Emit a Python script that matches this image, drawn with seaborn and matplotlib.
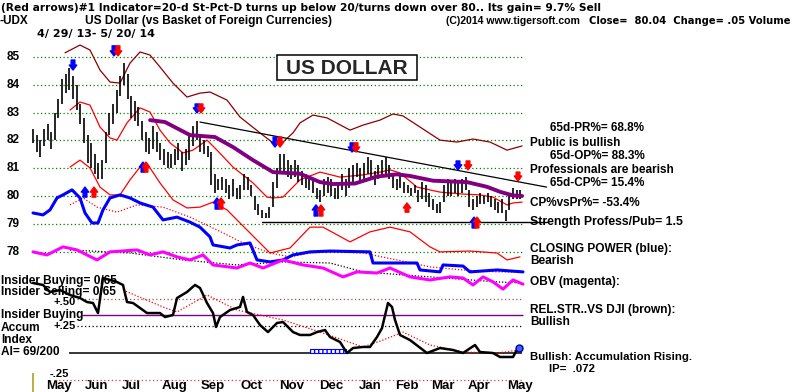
import matplotlib
matplotlib.use("Agg")
import matplotlib.pyplot as plt
import seaborn as sns
from matplotlib.patches import Rectangle

# ---------------- data ----------------
# daily price bars, sampled every 2nd trading day (day index from 4/29/13)
bar_day = list(range(0, 270, 2))
bar_high = [82.4, 82.2, 82.0, 82.4, 82.6, 82.3, 83.0, 83.5, 84.2, 84.4,
            84.6, 84.3, 84.0, 83.3, 82.8, 82.2, 81.9, 81.5, 81.2, 81.3,
            82.3, 83.0, 83.3, 83.8, 84.3, 84.8, 84.4, 83.6, 83.4, 83.2,
            82.7, 82.3, 82.1, 82.5, 82.3, 81.9, 81.7, 81.6, 81.5, 81.7,
            81.9, 81.6, 81.7, 82.2, 82.5, 82.7, 82.2, 82.0, 81.8, 81.6,
            80.8, 80.6, 80.7, 80.6, 80.4, 80.6, 80.3, 80.4, 80.8, 80.7,
            80.4, 80.0, 79.7, 79.5, 79.4, 79.6, 80.5, 81.0, 81.5, 81.5,
            81.3, 81.1, 81.3, 81.1, 80.9, 80.8, 80.7, 80.6, 80.3, 80.2,
            80.6, 80.7, 80.6, 80.3, 80.5, 80.8, 80.6, 81.0, 81.1, 81.2,
            81.0, 81.2, 81.4, 81.3, 80.9, 81.1, 81.3, 81.4, 81.1, 80.8,
            80.6, 80.8, 80.5, 80.4, 80.3, 80.4, 80.2, 80.5, 80.4, 80.1,
            79.9, 79.7, 79.8, 80.4, 80.6, 80.5, 80.6, 80.5, 80.6, 80.7,
            80.2, 79.9, 80.0, 80.1, 80.0, 80.1, 80.0, 79.9, 79.8, 79.9,
            79.5, 80.1, 80.3, 80.2, 80.2]
bar_low = [81.9, 81.6, 81.4, 81.8, 82.0, 81.7, 82.0, 82.8, 83.3, 83.7,
           83.8, 83.5, 83.1, 82.6, 81.9, 81.2, 81.0, 80.8, 80.6, 80.6,
           81.2, 82.2, 82.6, 83.0, 83.6, 84.0, 83.5, 82.8, 82.7, 82.5,
           82.0, 81.6, 81.5, 81.7, 81.6, 81.3, 81.1, 81.0, 81.0, 81.1,
           81.3, 80.9, 81.1, 81.3, 81.8, 82.0, 81.6, 81.5, 81.4, 80.4,
           80.1, 80.2, 80.2, 80.1, 79.9, 80.0, 79.9, 79.9, 80.2, 80.2,
           80.0, 79.5, 79.3, 79.2, 79.2, 79.2, 79.6, 80.3, 80.8, 80.9,
           80.7, 80.6, 80.7, 80.5, 80.4, 80.3, 80.2, 80.1, 79.9, 79.8,
           80.0, 80.1, 80.0, 79.9, 79.9, 80.2, 80.0, 80.3, 80.5, 80.7,
           80.5, 80.6, 80.8, 80.6, 80.4, 80.6, 80.7, 80.8, 80.6, 80.3,
           80.2, 80.3, 80.1, 80.1, 80.0, 80.1, 79.8, 79.9, 79.8, 79.6,
           79.5, 79.4, 79.4, 79.8, 80.0, 80.0, 80.1, 80.0, 80.1, 80.2,
           79.6, 79.5, 79.6, 79.7, 79.7, 79.8, 79.6, 79.5, 79.4, 79.4,
           79.1, 79.5, 79.9, 79.9, 79.9]

# 65-day moving average (purple)
ma_day = [64.4, 72.6, 86.4, 100.1, 110, 121, 132, 146.9, 157.9, 165, 177.1,
          189.2, 200.2, 207.4, 220, 238.7, 249.7, 256.9, 264, 269]
ma_val = [82.73, 82.66, 82.19, 82.12, 81.76, 81.29, 80.86, 80.8, 80.5, 80.43,
          80.45, 80.7, 80.78, 80.72, 80.55, 80.5, 80.33, 80.15, 80.02, 80.0]

# outer band (dark red, relative strength)
rs_day = [17.6, 25.85, 31.35, 36.85, 42.35, 47.85, 53.35, 58.85, 64.35, 69.85,
          77, 84.7, 91.85, 97.35, 106.7, 113.85, 124.85, 132, 137.5, 143,
          146.85, 154, 161.7, 174.35, 181.5, 190.85, 198, 203.5, 212.85,
          223.85, 233.2, 242, 251.35, 260.7, 269]
rs_val = [85.15, 85.43, 85.25, 84.53, 84.10, 84.06, 84.78, 85.18, 85.07, 84.64,
          84.06, 83.56, 83.70, 83.74, 83.45, 82.84, 82.27, 81.91, 81.94, 82.27,
          82.63, 82.91, 82.81, 82.37, 82.55, 82.73, 82.95, 82.88, 82.48,
          82.01, 81.94, 82.05, 81.94, 81.65, 81.80]

# upper red band
up_day = [20.35, 25.85, 31.35, 36.85, 42.35, 46.2, 51.7, 58.85, 64.35, 69.85,
          75.35, 82.5, 88, 95.7, 101.2, 110, 121, 128.7, 132, 137.5, 146.85,
          157.85, 168.85, 181.5, 190.85, 196.35, 201.85, 211.2, 223.85, 236.5,
          245.85, 253, 260.7, 264, 269]
up_val = [83.09, 83.38, 83.27, 82.48, 82.09, 82.01, 82.63, 83.17, 83.02, 82.37,
          81.91, 81.55, 81.65, 82.01, 81.65, 81.04, 80.47, 79.96, 79.93, 79.96,
          80.58, 80.86, 80.68, 80.76, 80.86, 80.94, 80.83, 80.32, 80.14, 80.07,
          80.04, 79.96, 79.68, 79.75, 79.78]

# lower red band
lo_day = [20.35, 25.85, 31.35, 36.85, 42.35, 47.85, 53.35, 58.85, 64.35, 69.85,
          77, 84.7, 91.85, 99, 106.7, 113.85, 119.35, 124.85, 130.35, 141.35,
          152.35, 159.5, 174.35, 185.35, 196.35, 207.35, 218.35, 223.85,
          240.35, 255.2, 260.7, 267.85]
lo_val = [81.04, 81.29, 81.01, 80.32, 80.04, 80.04, 80.58, 81.04, 81.01, 80.47,
          79.86, 79.57, 79.60, 79.78, 79.50, 79.03, 78.67, 78.31, 77.95, 78.13,
          78.88, 78.88, 78.35, 78.71, 78.88, 78.71, 78.17, 77.99,
          78.02, 77.95, 77.70, 77.81]

# Closing Power (blue) and its moving average (red dotted)
cp_day = [0, 5.5, 9.35, 13.2, 16.5, 21.45, 25.85, 28.6, 32.45, 35.75, 38.5,
          42.35, 47.85, 53.35, 58.85, 66, 71.5, 79.2, 86.35, 91.85, 97.35, 99,
          108.35, 112.2, 119.35, 123.2, 130.35, 137.5, 143, 152.35, 163.35,
          185.35, 187, 200.2, 211.2, 212.85, 223.85, 225.5, 236.5, 240.35,
          255.2, 269.5]
cp_val = [79.39, 79.32, 79.50, 79.93, 80.04, 80.22, 79.93, 79.39, 79.03, 79.03,
          79.50, 79.93, 80.04, 79.93, 79.75, 79.60, 79.14, 79.24, 79.06, 78.88,
          78.53, 78.24, 78.13, 78.24, 78.31, 77.70, 77.63, 77.70, 77.88, 77.99,
          78.02, 77.99, 77.59, 77.59, 77.59, 77.34, 77.27, 77.52, 77.48, 77.27,
          77.34, 77.27]
cpma_day = [20.35, 27.5, 35.2, 46.2, 57.2, 71.5, 86.35, 101.2, 115.5, 130.35,
            141.35, 152.35, 163.35, 181.5, 200.2, 218.35, 236.5, 255.2, 269.5]
cpma_val = [79.68, 79.93, 79.60, 79.42, 79.68, 79.60, 79.24, 78.78, 78.31,
            77.95, 77.81, 77.95, 77.99, 77.95, 77.70, 77.45, 77.34, 77.27, 77.27]

# OBV (magenta) and its moving average (black dotted)
obv_day = [0, 7.7, 16.5, 24.2, 35.2, 42.35, 57.2, 64.35, 71.5, 79.2, 86.35,
           93.5, 99, 112.2, 119.35, 126.5, 137.5, 148.5, 159.5, 170.5, 178.2,
           189.2, 196.35, 207.35, 218.35, 229.35, 236.5, 242, 247.5, 253,
           258.5, 264, 269.5]
obv_val = [77.99, 77.88, 78.17, 78.06, 77.70, 77.99, 78.06, 77.88, 77.99, 77.81,
           77.70, 77.88, 77.52, 77.41, 77.59, 77.41, 77.70, 77.52, 77.41, 77.09,
           77.27, 77.23, 77.41, 77.09, 76.98, 77.09, 77.05, 76.80, 77.09, 76.91,
           76.65, 76.98, 76.83]
obvma_day = [20.35, 53.35, 82.5, 112.2, 137.5, 163.35, 181.5, 218.35, 255.2, 269.5]
obvma_val = [78.06, 77.95, 77.70, 77.52, 77.63, 77.59, 77.27, 77.09, 76.91, 76.87]

# Accumulation Index (black) and its moving average (red dotted)
ai_day = [0, 5.5, 9.35, 14.85, 20.35, 25.85, 29.7, 33, 35.75, 37.95, 38.5,
          42.35, 46.2, 49.5, 51.7, 55, 58.85, 62.7, 69.85, 72.6, 77, 79.2,
          84.7, 89.1, 91.85, 95.7, 99, 100.65, 102.85, 108.35, 113.85, 115.5,
          117.7, 121, 124.85, 129.25, 134.2, 137.5, 143, 146.85, 152.35, 156.2,
          160.6, 163.35, 168.85, 172.7, 176, 181.5, 185.35, 189.2, 191.95,
          195.25, 197.45, 199.1, 201.85, 207.35, 214.5, 216.7, 223.85, 231,
          236.5, 243.1, 245.85, 253, 256.85, 264, 266.75, 268.95]
ai_val = [0.648, 0.630, 0.565, 0.583, 0.537, 0.509, 0.472, 0.463, 0.370, 0.630,
          0.694, 0.676, 0.657, 0.630, 0.472, 0.463, 0.417, 0.370, 0.370, 0.333,
          0.352, 0.509, 0.565, 0.630, 0.602, 0.463, 0.370, 0.241, 0.333, 0.398,
          0.426, 0.519, 0.380, 0.352, 0.259, 0.194, 0.278, 0.287, 0.194, 0.167,
          0.167, 0.194, 0.213, 0.148, 0.102, 0.0, 0.046, 0.056, 0.056, 0.148,
          0.231, 0.463, 0.426, 0.306, 0.167, 0.120, 0.028, 0.0, 0.046, 0.028,
          0.0, 0.074, 0.009, 0.0, -0.037, -0.037, 0.046, 0.056]
aima_day = [49.5, 71.5, 79.2, 95.7, 112.2, 137.5, 159.5, 181.5, 192.5, 203.5,
            218.35, 236.5, 255.2, 267.85]
aima_val = [0.583, 0.426, 0.380, 0.537, 0.398, 0.306, 0.185, 0.056, 0.120,
            0.194, 0.074, 0.009, 0.0, 0.028]

# trend / support lines
trend_day = [91.85, 282.5]
trend_val = [82.66, 80.32]
support_day = [126.0, 282.7]
support_val = [79.06, 79.06]

# buy / sell arrows: day, tip level, tail level, colour
sig_day = [22, 44.55, 46.75, 28.6, 33.55, 60.5, 62.15, 90.2, 92.4, 101.2, 103.4,
           133.1, 135.85, 155.65, 158.4, 175.45, 177.65, 205.7, 233.75, 239.25,
           266.75, 242.55, 244.2]
sig_tip = [84.53, 85.04, 85.04, 80.32, 80.32, 81.22, 81.22, 82.99, 82.99, 79.93,
           79.93, 81.76, 81.76, 79.68, 79.68, 81.58, 81.58, 79.75, 80.94, 80.94,
           80.54, 79.24, 79.24]
sig_tail = [84.89, 85.40, 85.40, 79.96, 79.96, 80.86, 80.86, 83.31, 83.31, 79.53,
            79.53, 82.12, 82.12, 79.28, 79.28, 81.91, 81.91, 79.42, 81.26, 81.26,
            80.86, 78.85, 78.85]
sig_color = ['b', 'b', 'r', 'b', 'r', 'b', 'r', 'b', 'r', 'b', 'r', 'b', 'r',
             'b', 'r', 'b', 'r', 'r', 'b', 'r', 'r', 'b', 'r']

price_ticks = [85, 84, 83, 82, 81, 80, 79, 78]
month_labels = ['May', 'Jun', 'Jul', 'Aug', 'Sep', 'Oct', 'Nov', 'Dec', 'Jan',
                'Feb', 'Mar', 'Apr', 'May']
month_pos = [14.3, 35.2, 53.9, 78.1, 99.0, 120.4, 142.4, 163.9, 185.4, 205.7,
             225.5, 245.3, 267.9]
ai_levels = [0.5, 0.25, 0.0, -0.25]
ai_level_labels = ['+.50', '+.25', '', '-.25']
insider_level = 0.352

# ---------------- drawing ----------------
sns.set_theme(style="white")
plt.rcParams['font.family'] = ['Liberation Sans', 'DejaVu Sans']
plt.rcParams['font.weight'] = 'bold'

W, H = 792, 392
fig = plt.figure(figsize=(W / 100, H / 100), dpi=100)
fig.patch.set_facecolor('white')
ax = fig.add_axes([0, 0, 1, 1])
ax2 = fig.add_axes([0, 0, 1, 1], sharex=ax)
ax2.patch.set_alpha(0)

XL = (-18.15, 417.45)
YL = (72.95, 87.05)
AL = (-0.361, 3.2685)


def line(a, xs, ys, **kw):
    sns.lineplot(x=xs, y=ys, ax=a, estimator=None, sort=False, legend=False, **kw)


GREEN = '#008000'
dots = (0, (1, 2))
ax.hlines(price_ticks, 0, 269, colors=GREEN, linestyles=dots, lw=0.9, zorder=1)

# bands
line(ax, rs_day, rs_val, color='#8b0000', lw=0.9, zorder=2)
line(ax, up_day, up_val, color='#ff0000', lw=0.9, zorder=2)
line(ax, lo_day, lo_val, color='#ff0000', lw=0.9, zorder=2)
line(ax, cpma_day, cpma_val, color='#ff0000', lw=0.9, linestyle=(0, (1, 1.5)), zorder=2)
line(ax, obvma_day, obvma_val, color='black', lw=0.9, linestyle=(0, (1, 1.5)), zorder=2)
line(ax, cp_day, cp_val, color='#0000ff', lw=2.2, zorder=3)
line(ax, obv_day, obv_val, color='#ff00ff', lw=2.2, zorder=3)

# price bars
ax.vlines(bar_day, bar_low, bar_high, colors='black', lw=1.2, zorder=4)
line(ax, ma_day, ma_val, color='#800080', lw=2.8, zorder=5)
line(ax, trend_day, trend_val, color='black', lw=0.9, zorder=5)
line(ax, support_day, support_val, color='black', lw=1.0, zorder=5)

for d, tip, tail, c in zip(sig_day, sig_tip, sig_tail, sig_color):
    ax.annotate("", xy=(d, tip), xytext=(d, tail),
                arrowprops=dict(arrowstyle="simple,head_width=0.9,head_length=0.6,tail_width=0.45",
                                color='#0000ff' if c == 'b' else '#ff0000',
                                mutation_scale=6, shrinkA=0, shrinkB=0),
                zorder=6)

# price labels
for p in price_ticks:
    ax.text(13 / W, p, str(p), transform=ax.get_yaxis_transform(), ha='center',
            va='center', fontsize=8.5, fontweight='bold', color='black')

# month labels
for pos, lab in zip(month_pos, month_labels):
    ax.text(pos, 1 - 386 / H, lab, transform=ax.get_xaxis_transform(), ha='center',
            va='center', fontsize=9.5, fontweight='bold', color='black')

# accumulation panel
ax2.hlines([ai_levels[0]], 24, 269, colors='#a05050', linestyles=dots, lw=0.9)
ax2.hlines([ai_levels[1]], 24, 269, colors='black', linestyles=dots, lw=0.9)
ax2.hlines([ai_levels[2]], 20, 269, colors='black', lw=1.1)
ax2.hlines([ai_levels[3]], 12, 269, colors='#d04040', linestyles=dots, lw=0.9)
ax2.hlines([insider_level], 27, 269.5, colors='#800080', lw=1.0)
ax2.fill_between([152.35, 172.2], [0.0, 0.0], [0.035, 0.035], facecolor='white',
                 edgecolor='#0000ff', hatch='||||', lw=0.8, zorder=2)
line(ax2, aima_day, aima_val, color='#ff0000', lw=0.9, linestyle=(0, (1, 1.5)), zorder=3)
line(ax2, ai_day, ai_val, color='black', lw=1.8, zorder=4)
ax2.plot([267.3], [0.05], marker='o', ms=5, mfc='#4060ff', mec='#0000aa', zorder=5)
label_shift = {'+.50': -0.03, '+.25': 0.0, '-.25': 0.06}
for lev, lab in zip(ai_levels, ai_level_labels):
    if lab:
        ax2.text(17.5 if lab != '-.25' else 14.5, lev + label_shift[lab], lab,
                 ha='center', va='center', fontsize=8.0, fontweight='bold', color='black')

# olive tick at chart start
ax.vlines([0], 72.95, 73.65, colors='#b0a020', lw=1.2)

ax.set_xlim(*XL)
ax.set_ylim(*YL)
ax2.set_ylim(*AL)
ax.axis('off')
ax2.axis('off')

# title box
ax.add_patch(Rectangle((277 / W, 1 - 80 / H), 140 / W, 25 / H, transform=fig.transFigure,
                       facecolor='white', edgecolor='black', lw=1.1, zorder=10))
fig.text(347 / W, 1 - 68 / H, "US DOLLAR", ha='center', va='center', fontsize=15,
         fontweight='bold', zorder=11)

DJ = ['DejaVu Sans']


def T(x, y, s, size=8.5, family=None):
    kw = {'family': family} if family else {}
    fig.text(x / W, 1 - y / H, s, ha='left', va='center', fontsize=size,
             fontweight='bold', color='black', **kw)


T(1, 8, "(Red arrows)#1 Indicator=20-d St-Pct-D turns up below 20/turns down over 80.. Its gain= 9.7% Sell",
  size=7.65, family=DJ)
T(0, 21, "-UDX", size=8.5)
T(85, 21, "US Dollar (vs Basket of Foreign Currencies)", size=8.6)
T(446, 21, "(C)2014 www.tigersoft.com", size=7.6)
T(589, 21, "Close=  80.04  Change= .05 Volume", size=7.2, family=DJ)
T(37, 34, "4/ 29/ 13- 5/ 20/ 14", size=8.0, family=DJ)

T(550, 128, "65d-PR%= 68.8%")
T(530, 143, "Public is bullish")
T(550, 156, "65d-OP%= 88.3%")
T(530, 170, "Professionals are bearish")
T(550, 183, "65d-CP%= 15.4%")
T(530, 203, "CP%vsPr%= -53.4%")
T(530, 222, "Strength Profess/Pub= 1.5", size=8.8)
T(530, 249, "CLOSING POWER (blue):", size=8.6)
T(530, 261, "Bearish", size=8.6)
T(530, 282, "OBV (magenta):", size=8.6)
T(530, 310, "REL.STR..VS DJI (brown):", size=8.6)
T(530, 322, "Bullish", size=8.6)
T(530, 357, "Bullish: Accumulation Rising.", size=8.2)
T(549, 369, "IP=  .072", size=8.2)

T(1, 281, "Insider Buying= 0/65", size=8.6)
T(1, 292, "Insider Selling= 0/65", size=8.6)
T(1, 315, "Insider Buying", size=8.6)
T(1, 328, "Accum", size=8.6)
T(1, 340, "Index", size=8.6)
T(1, 352, "AI= 69/200", size=8.6)

fig.savefig("out.png", dpi=100, facecolor='white')
